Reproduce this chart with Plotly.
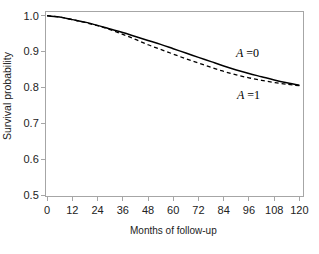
import plotly.graph_objects as go

months = [0, 6, 12, 18, 24, 30, 36, 42, 48, 54, 60, 66, 72, 78, 84, 90, 96, 102, 108, 114, 120]
surv_a0 = [1.000, 0.996, 0.989, 0.982, 0.973, 0.963, 0.953, 0.942, 0.931, 0.920, 0.908,
           0.896, 0.884, 0.872, 0.860, 0.849, 0.839, 0.830, 0.821, 0.813, 0.806]
surv_a1 = [1.000, 0.996, 0.989, 0.981, 0.972, 0.961, 0.948, 0.934, 0.919, 0.906, 0.893,
           0.880, 0.868, 0.856, 0.845, 0.835, 0.827, 0.820, 0.814, 0.809, 0.805]
x_ticks = [0, 12, 24, 36, 48, 60, 72, 84, 96, 108, 120]
y_ticks = [0.5, 0.6, 0.7, 0.8, 0.9, 1.0]

fig = go.Figure()
fig.add_trace(go.Scatter(x=months, y=surv_a0, mode="lines",
                         line=dict(color="black", width=1.5, shape="spline"), showlegend=False))
fig.add_trace(go.Scatter(x=months, y=surv_a1, mode="lines",
                         line=dict(color="black", width=1.3, dash="4px,3px", shape="spline"), showlegend=False))

axcol = "#a6a6a6"
font_sans = "Liberation Sans, Arial, sans-serif"
W, H = 319, 254
l, r, t, b = 46, 16, 10, 58
pw, ph = W - l - r, H - t - b

fig.update_layout(
    width=W, height=H,
    margin=dict(l=l, r=r, t=t, b=b),
    paper_bgcolor="white", plot_bgcolor="white",
    font=dict(family=font_sans, size=11, color="#222"),
    xaxis=dict(range=[-0.5, 121.7], tickvals=x_ticks, ticktext=[str(v) for v in x_ticks],
               showgrid=False, zeroline=False, showline=True, linecolor=axcol, linewidth=1,
               mirror=True, ticks="outside", ticklen=4, tickcolor=axcol,
               tickfont=dict(family=font_sans, size=11)),
    yaxis=dict(range=[0.498, 1.0102], tickvals=y_ticks, ticktext=[f"{v:.1f}" for v in y_ticks],
               showgrid=False, zeroline=False, showline=True, linecolor=axcol, linewidth=1,
               mirror=True, ticks="outside", ticklen=4, tickcolor=axcol,
               tickfont=dict(family=font_sans, size=11)),
    annotations=[
        dict(text="<i>A</i> =0", x=95, y=0.897, xref="x", yref="y", showarrow=False,
             xanchor="center", yanchor="middle",
             font=dict(family="Liberation Serif, Times New Roman, serif", size=12, color="black")),
        dict(text="<i>A</i> =1", x=95.5, y=0.779, xref="x", yref="y", showarrow=False,
             xanchor="center", yanchor="middle",
             font=dict(family="Liberation Serif, Times New Roman, serif", size=12, color="black")),
        dict(text="Months of follow-up", x=(173 - l) / pw, y=(H - b - 231) / ph,
             xref="paper", yref="paper", showarrow=False, xanchor="center", yanchor="middle",
             font=dict(family=font_sans, size=10, color="#222")),
        dict(text="Survival probability", x=(7 - l) / pw, y=(H - b - 95) / ph, textangle=-90,
             xref="paper", yref="paper", showarrow=False, xanchor="center", yanchor="middle",
             font=dict(family=font_sans, size=10.5, color="#222")),
    ],
)

fig.write_html("out.html")
